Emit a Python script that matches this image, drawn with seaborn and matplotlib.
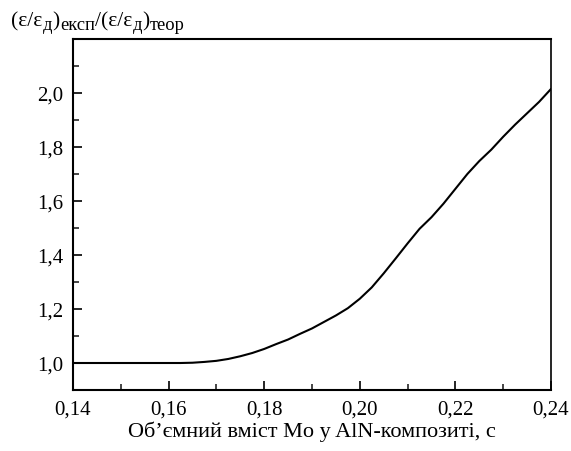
import matplotlib
matplotlib.use("Agg")
import matplotlib.pyplot as plt
import seaborn as sns
import pandas as pd
from matplotlib.ticker import MultipleLocator, FuncFormatter

# Data
x_vals = [0.14, 0.15, 0.16, 0.1625, 0.165, 0.1675, 0.17, 0.1725, 0.175, 0.1775,
          0.18, 0.1825, 0.185, 0.1875, 0.19, 0.1925, 0.195, 0.1975, 0.20, 0.2025,
          0.205, 0.2075, 0.21, 0.2125, 0.215, 0.2175, 0.22, 0.2225, 0.225, 0.2275,
          0.23, 0.2325, 0.235, 0.2375, 0.24]
y_vals = [1.0, 1.0, 1.0, 1.0, 1.001, 1.004, 1.008, 1.015, 1.025, 1.037,
          1.052, 1.07, 1.087, 1.108, 1.128, 1.152, 1.176, 1.203, 1.238, 1.28,
          1.332, 1.387, 1.443, 1.497, 1.54, 1.59, 1.645, 1.7, 1.748, 1.79,
          1.838, 1.883, 1.925, 1.967, 2.015]
x_ticks = [0.14, 0.16, 0.18, 0.20, 0.22, 0.24]
y_ticks = [1.0, 1.2, 1.4, 1.6, 1.8, 2.0]

sns.set_theme(style="ticks")
plt.rcParams['font.family'] = ['Liberation Serif', 'DejaVu Serif']

df = pd.DataFrame({"x": x_vals, "y": y_vals})

W, H = 571, 452
fig = plt.figure(figsize=(W / 100, H / 100), dpi=100)
ax = fig.add_axes([73/W, 61/H, 478/W, 351/H])
sns.lineplot(data=df, x="x", y="y", ax=ax, color="black", linewidth=1.5)

ax.set_xlim(0.14, 0.24)
ax.set_ylim(0.9, 2.2)
ax.set_xticks(x_ticks)
ax.set_yticks(y_ticks)
ax.xaxis.set_minor_locator(MultipleLocator(0.01))
ax.yaxis.set_minor_locator(MultipleLocator(0.1))
ax.xaxis.set_major_formatter(FuncFormatter(lambda v, p: f"{v:.2f}".replace(".", ",")))
ax.yaxis.set_major_formatter(FuncFormatter(lambda v, p: f"{v:.1f}".replace(".", ",")))
ax.tick_params(which="major", direction="in", length=6.5, width=1.2, labelsize=15,
               colors="black", pad=7, top=False, right=False)
ax.tick_params(which="minor", direction="in", length=4, width=1.2, top=False, right=False)

for s in ["left", "bottom", "top", "right"]:
    ax.spines[s].set_linewidth(1.5)
    ax.spines[s].set_color("black")
ax.spines["right"].set_linewidth(1.2)

ax.set_xlabel("Об’ємний вміст Mo у AlN-композиті, c", fontsize=16, labelpad=1, color="black")
ax.set_ylabel("")

# Y-axis title at the top-left, built from pieces (main text + subscripts)
pieces = [("(ε/ε", False), ("д", True), (")", False), ("експ", True),
          ("/(ε/ε", False), ("д", True), (")", False), ("теор", True)]
renderer = fig.canvas.get_renderer()
x_px = 11.0
base_px = 26.0
for txt, sub in pieces:
    y_px = base_px + (4.5 if sub else 0.0)
    t = fig.text(x_px / W, 1 - y_px / H, txt, fontsize=13.3 if sub else 15.5,
                 ha="left", va="baseline", color="black")
    bb = t.get_window_extent(renderer=renderer)
    x_px = bb.x1 + 0.3

fig.savefig("out.png", dpi=100)
